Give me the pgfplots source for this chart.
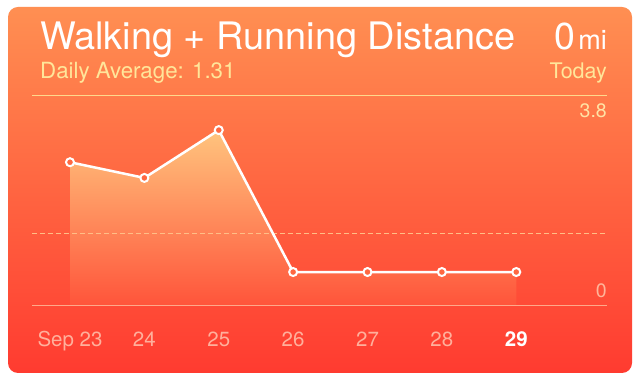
\documentclass[border=0pt]{standalone}
\usepackage{pgfplots}
\pgfplotsset{compat=1.18}
\usepackage{fontspec}
\setmainfont{TeX Gyre Heros}

\definecolor{cardtop}{HTML}{FF8F52}
\definecolor{cardbot}{HTML}{FF3B30}
\definecolor{subtext}{HTML}{FFE69A}
\definecolor{ticktext}{HTML}{FFB09C}
\definecolor{maxlab}{HTML}{FFE3A5}
\definecolor{zerolab}{HTML}{FFB59A}
\definecolor{toprule}{HTML}{FFD88C}
\definecolor{bottomrule}{HTML}{FFA98A}
\definecolor{avgline}{HTML}{FFBE86}
\definecolor{filltop}{HTML}{FFC47E}
\definecolor{fillbot}{HTML}{FF543A}
\definecolor{markfill}{HTML}{FF6842}

\begin{document}
\begin{tikzpicture}[x=1pt,y=1pt]
  % canvas and card
  \fill[white] (0,0) rectangle (640,380);
  \shade[top color=cardtop, bottom color=cardbot, rounded corners=10pt] (8,7) rectangle (632,373);

  % header
  \node[anchor=base west, inner sep=0, text=white, font=\fontsize{37.9}{40}\selectfont]
    at (40,330) {Walking + Running Distance};
  \node[anchor=base east, inner sep=0, text=white]
    at (607,330) {{\fontsize{37.5}{40}\selectfont 0}\hspace{3pt}{\fontsize{27}{29}\selectfont mi}};
  \node[anchor=base west, inner sep=0, text=subtext, font=\fontsize{22.3}{24}\selectfont]
    at (40,301) {Daily Average: 1.31};
  \node[anchor=base east, inner sep=0, text=subtext, font=\fontsize{21.5}{24}\selectfont]
    at (607,301) {Today};

  \begin{axis}[
    at={(32pt,74pt)}, anchor=south west,
    scale only axis, width=575pt, height=211pt,
    xmin=-0.511, xmax=7.22, ymin=-0.91, ymax=4.74,
    axis line style={draw=none},
    tick style={draw=none},
    ytick=\empty,
    xtick={0,1,2,3,4,5,6},
    xticklabels={Sep 23,24,25,26,27,28,{\textcolor{white}{\bfseries 29}}},
    xticklabel style={anchor=base, yshift=-41pt, inner sep=0pt,
      text=ticktext, font=\fontsize{20.5}{22}\selectfont},
    clip=false,
  ]
    % shaded area under the daily distances
    \addplot[draw=none, top color=filltop, bottom color=fillbot]
      coordinates {(0,-0.91) (0,2.94) (1,2.52) (2,3.8) (3,0) (4,0) (5,0) (6,0) (6,-0.91)};

    % frame lines
    \draw[color=toprule, line width=1pt] (rel axis cs:0,1) -- (rel axis cs:1,1);
    \draw[color=bottomrule, line width=1pt] (rel axis cs:0,0) -- (rel axis cs:1,0);

    % average level
    \addplot[avgline, line width=1pt, dash pattern=on 5pt off 3pt]
      coordinates {(-0.511,1.04) (7.22,1.04)};

    % daily distances
    \addplot[white, line width=2.5pt, mark=*, mark size=4pt,
      mark options={fill=markfill, draw=white, line width=2pt}]
      coordinates {(0,2.94) (1,2.52) (2,3.8) (3,0) (4,0) (5,0) (6,0)};
  \end{axis}

  % value scale labels
  \node[anchor=base east, inner sep=0, text=maxlab, font=\fontsize{19.5}{22}\selectfont]
    at (607,262) {3.8};
  \node[anchor=base east, inner sep=0, text=zerolab, font=\fontsize{19.5}{22}\selectfont]
    at (607,82) {0};
\end{tikzpicture}
\end{document}
